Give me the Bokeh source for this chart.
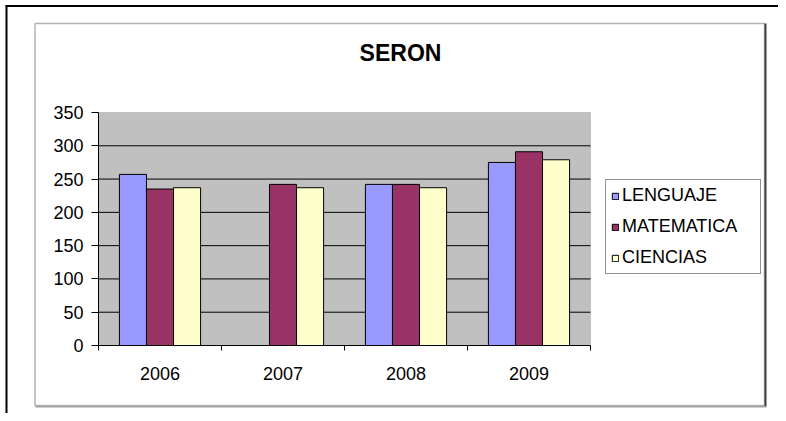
from bokeh.plotting import figure
from bokeh.models import (Range1d, FixedTicker, Legend, LegendItem, Label,
                          BoxAnnotation, LinearAxis)
from bokeh.embed import file_html
from bokeh.resources import INLINE

# ---- data ----
chart_title = "SERON"
years = ["2006", "2007", "2008", "2009"]
series_names = ["LENGUAJE", "MATEMATICA", "CIENCIAS"]
lenguaje = [257, None, 242, 275]
matematica = [235, 242, 242, 291]
ciencias = [237, 237, 237, 279]
series_colors = ["#9999FF", "#993366", "#FFFFCC"]
y_ticks = [0, 50, 100, 150, 200, 250, 300, 350]
y_max = 350

FONT = "Liberation Sans"
W, H = 778, 413
# plot-area placement on the canvas (pixels)
PL, PR, PT, PB = 98, 590, 112, 345
n = len(years)
sx = (PR - PL) / n            # px per category
sy = (PB - PT) / y_max        # px per value unit
x0 = -PL / sx
x1 = n + (W - PR) / sx
y0 = -(H - PB) / sy
y1 = y_max + PT / sy


def px2x(px):
    return x0 + px / sx


def py2y(py):
    return y1 - py / sy


p = figure(width=W, height=H, output_backend="svg", toolbar_location=None,
           title=None, x_axis_location=None, y_axis_location=None,
           x_range=Range1d(x0, x1), y_range=Range1d(y0, y1),
           min_border=0, min_border_left=0, min_border_right=0,
           min_border_top=0, min_border_bottom=0)
p.background_fill_color = "white"
p.border_fill_color = "white"
p.outline_line_color = None
p.xgrid.visible = False
p.ygrid.visible = False

# plot area background
p.add_layout(BoxAnnotation(left=0, right=n, bottom=0, top=y_max, level="underlay",
                           fill_color="#C0C0C0", fill_alpha=1,
                           line_color="#808080", line_width=1))
# horizontal grid lines at the inner y ticks, across the plot area only
grid_vals = y_ticks[1:-1]
p.segment(x0=[0] * len(grid_vals), x1=[n] * len(grid_vals), y0=grid_vals, y1=grid_vals,
          line_color="black", line_width=1)

bar_w = 0.22
renderers = []
for k, (vals, col) in enumerate(zip([lenguaje, matematica, ciencias], series_colors)):
    xs = [i + 0.5 + (k - 1) * bar_w for i in range(n)]
    tops = [float("nan") if v is None else v for v in vals]
    r = p.vbar(x=xs, top=tops, bottom=0, width=bar_w, fill_color=col,
               line_color="black", line_width=1)
    renderers.append(r)

# axes
yaxis = LinearAxis(fixed_location=0, bounds=(0, y_max),
                   ticker=FixedTicker(ticks=y_ticks, minor_ticks=[]))
yaxis.major_tick_out = 7
yaxis.major_tick_in = 0
yaxis.minor_tick_line_color = None
yaxis.major_label_standoff = 8
yaxis.major_label_text_font = FONT
yaxis.major_label_text_font_size = "18px"
yaxis.major_label_text_color = "black"
yaxis.axis_line_color = "black"
yaxis.major_tick_line_color = "black"
p.add_layout(yaxis, "left")

xaxis = LinearAxis(fixed_location=0, bounds=(0, n),
                   ticker=FixedTicker(ticks=[i + 0.5 for i in range(n)],
                                      minor_ticks=list(range(n + 1))))
xaxis.major_label_overrides = {i + 0.5: y for i, y in enumerate(years)}
xaxis.major_tick_out = 0
xaxis.major_tick_in = 0
xaxis.minor_tick_out = 5
xaxis.minor_tick_in = 0
xaxis.minor_tick_line_color = "black"
xaxis.major_label_standoff = 16
xaxis.major_label_text_font = FONT
xaxis.major_label_text_font_size = "18px"
xaxis.major_label_text_color = "black"
xaxis.axis_line_color = "black"
p.add_layout(xaxis, "below")

# legend (box 605..759 x 181..274 on canvas)
legend = Legend(items=[LegendItem(label=nm, renderers=[r]) for nm, r in zip(series_names, renderers)],
                location=(605, H - 274))
legend.border_line_color = "#222222"
legend.border_line_width = 1
legend.background_fill_color = "white"
legend.background_fill_alpha = 1
legend.label_text_font = FONT
legend.label_text_font_size = "18px"
legend.label_text_color = "black"
legend.glyph_width = 8
legend.glyph_height = 8
legend.label_standoff = 3
legend.padding = 5
legend.spacing = 10
legend.label_height = 21
legend.label_width = 133
legend.margin = 0
p.add_layout(legend)

# title
p.add_layout(Label(x=px2x(400), y=py2y(52), text=chart_title,
                   text_align="center", text_baseline="middle",
                   text_font=FONT, text_font_size="23px", text_font_style="bold",
                   text_color="black"))

# chart frame
p.add_layout(BoxAnnotation(left=px2x(34.5), right=px2x(764), top=py2y(23), bottom=py2y(405),
                           fill_alpha=0, line_color="black", line_width=1.5))
p.add_layout(BoxAnnotation(left=px2x(764), right=px2x(766), top=py2y(23), bottom=py2y(406),
                           fill_color="#404040", fill_alpha=1, line_alpha=0))
p.add_layout(BoxAnnotation(left=px2x(35), right=px2x(766), top=py2y(405.5), bottom=py2y(407),
                           fill_color="#A0A0A0", fill_alpha=1, line_alpha=0))
# outer page lines
p.add_layout(BoxAnnotation(left=px2x(5), right=px2x(7), top=py2y(5), bottom=py2y(H),
                           fill_color="black", fill_alpha=1, line_alpha=0))
p.add_layout(BoxAnnotation(left=px2x(5), right=px2x(W), top=py2y(4.5), bottom=py2y(6.5),
                           fill_color="black", fill_alpha=1, line_alpha=0))

open("out.html", "w").write(file_html(p, INLINE))
